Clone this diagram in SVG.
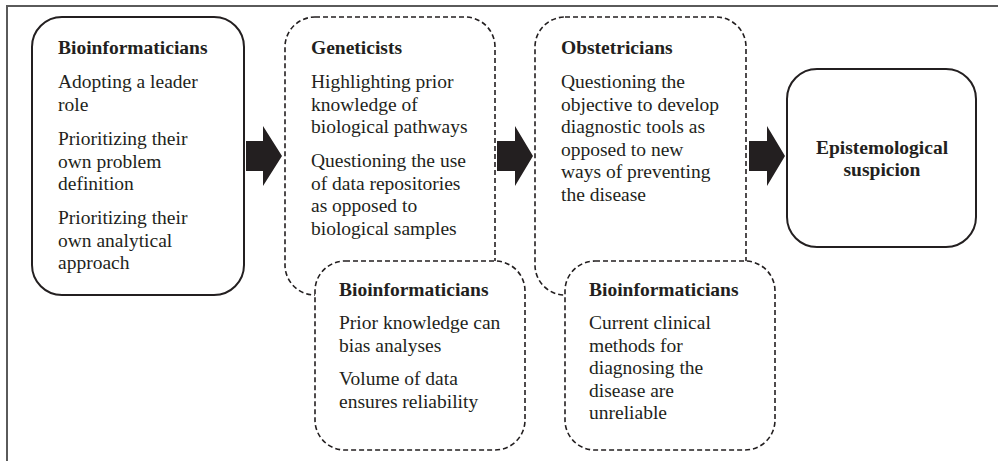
<svg xmlns="http://www.w3.org/2000/svg" width="998" height="461" viewBox="0 0 998 461">
<style>
text{font-family:"Liberation Serif","Times New Roman",serif;font-size:19.5px;fill:#231f20}
.b{font-weight:bold}
.solid{fill:#fff;stroke:#231f20;stroke-width:2}
.dash{fill:#fff;stroke:#231f20;stroke-width:1.6;stroke-dasharray:5 3}
.arrow{fill:#231f20}
</style>
<rect x="0" y="0" width="998" height="461" fill="#fff"/>
<path d="M7,461 V6 H998" fill="none" stroke="#5a5a5a" stroke-width="2"/>
<g id="connectors">
<path class="arrow" d="M246,141 H263 V126 L282,156 L263,186 V171 H246 Z"/>
<path class="arrow" d="M497,141 H515 V126 L533,156 L515,186 V171 H497 Z"/>
<path class="arrow" d="M749,141 H767 V126 L785,156 L767,186 V171 H749 Z"/>
</g>
<g id="bio1">
<rect class="solid" x="32" y="17" width="212" height="278" rx="30"/>
<text class="b" x="58" y="54">Bioinformaticians</text>
<text x="58" y="88">Adopting a leader</text>
<text x="58" y="110.5">role</text>
<text x="58" y="145">Prioritizing their</text>
<text x="58" y="167.5">own problem</text>
<text x="58" y="190">definition</text>
<text x="58" y="224">Prioritizing their</text>
<text x="58" y="246.5">own analytical</text>
<text x="58" y="269">approach</text>
</g>
<g id="geneticists">
<rect class="dash" x="285" y="17" width="210" height="278" rx="30"/>
<text class="b" x="311" y="54">Geneticists</text>
<text x="311" y="88">Highlighting prior</text>
<text x="311" y="110.5">knowledge of</text>
<text x="311" y="133">biological pathways</text>
<text x="311" y="167">Questioning the use</text>
<text x="311" y="189.5">of data repositories</text>
<text x="311" y="212">as opposed to</text>
<text x="311" y="234.5">biological samples</text>
</g>
<g id="bio2">
<rect class="dash" x="315" y="261" width="210" height="189" rx="30"/>
<text class="b" x="339" y="296">Bioinformaticians</text>
<text x="339" y="329">Prior knowledge can</text>
<text x="339" y="351.5">bias analyses</text>
<text x="339" y="385">Volume of data</text>
<text x="339" y="407.5">ensures reliability</text>
</g>
<g id="obstetricians">
<rect class="dash" x="535" y="17" width="211" height="278" rx="30"/>
<text class="b" x="561" y="54">Obstetricians</text>
<text x="561" y="88">Questioning the</text>
<text x="561" y="110.5">objective to develop</text>
<text x="561" y="133">diagnostic tools as</text>
<text x="561" y="155.5">opposed to new</text>
<text x="561" y="178">ways of preventing</text>
<text x="561" y="200.5">the disease</text>
</g>
<g id="bio3">
<rect class="dash" x="565" y="261" width="210" height="189" rx="30"/>
<text class="b" x="589" y="296">Bioinformaticians</text>
<text x="589" y="329">Current clinical</text>
<text x="589" y="351.5">methods for</text>
<text x="589" y="374">diagnosing the</text>
<text x="589" y="396.5">disease are</text>
<text x="589" y="419">unreliable</text>
</g>
<g id="epistemological">
<rect class="solid" x="787" y="69" width="189" height="178" rx="30"/>
<text class="b" x="882" y="154" text-anchor="middle">Epistemological</text>
<text class="b" x="882" y="176" text-anchor="middle">suspicion</text>
</g>
</svg>
